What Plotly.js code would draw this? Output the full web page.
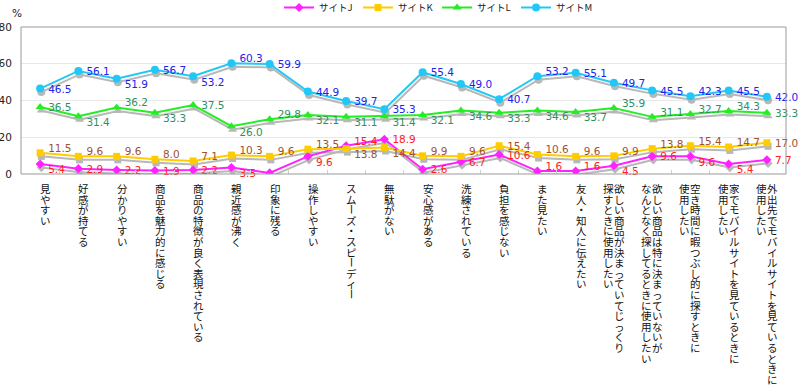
<!DOCTYPE html>
<html><head><meta charset="utf-8">
<script src="https://cdn.plot.ly/plotly-3.0.1.min.js"></script>
<style>html,body{margin:0;padding:0;background:#fff}</style>
</head><body><div id="chart" style="width:799px;height:386px"></div>
<script>
// ---- data ----
const categories = [
  '見やすい','好感が持てる','分かりやすい','商品を魅力的に感じる','商品の特徴が良く表現されている',
  '親近感が沸く','印象に残る','操作しやすい','スムーズ・スピーディー','無駄がない',
  '安心感がある','洗練されている','負担を感じない','また見たい','友人・知人に伝えたい',
  '欲しい商品が決まっていてじっくり<br>探すときに使用したい',
  '欲しい商品は特に決まっていないが<br>なんとなく探してるときに使用したい',
  '空き時間に暇つぶし的に探すときに<br>使用したい',
  '家でモバイルサイトを見ているときに<br>使用したい',
  '外出先でモバイルサイトを見ているときに<br>使用したい'
];
const seriesNames = ['サイトJ','サイトK','サイトL','サイトM'];
const siteJ = [5.4,2.9,2.2,1.9,2.2,3.5,0.6,9.6,15.4,18.9,2.6,6.7,10.6,1.6,1.6,4.5,9.6,9.6,5.4,7.7];
const siteK = [11.5,9.6,9.6,8.0,7.1,10.3,9.6,13.5,13.8,14.4,9.9,9.6,15.4,10.6,9.6,9.9,13.8,15.4,14.7,17.0];
const siteL = [36.5,31.4,36.2,33.3,37.5,26.0,29.8,32.1,31.1,31.4,32.1,34.6,33.3,34.6,33.7,35.9,31.1,32.7,34.3,33.3];
const siteM = [46.5,56.1,51.9,56.7,53.2,60.3,59.9,44.9,39.7,35.3,55.4,49.0,40.7,53.2,55.1,49.7,45.5,42.3,45.5,42.0];
const yTicks = [0,20,40,60,80];
const yTickText = ['0','20','40','60','80'];
const yUnit = '%';

// ---- styles ----
const lineColors = ['#ff22ff','#ffcc00','#22ee22','#22c8f5'];
const labelColors = ['#ff2020','#a0522d','#2e9060','#2222ee'];
const symbols = ['diamond','square','triangle-up','circle'];
const msizes = [7,7,8,8];
const P = {T:'top right', M:'middle right', B:'bottom right'};
const labelPos = [
  'BMMMMBMBTMMMMTTBMBBM',
  'TTTTTTTTBBTTMTTTTTTM',
  'MBTBMBTBBBBBBBBTTTTM',
  'MMBMBTMMMMMMMTMMMTMM'
].map(s => s.split('').map(c => P[c]));
const shadow = '#b8b8b8';
const font = 'DejaVu Sans, Noto Sans CJK JP, sans-serif';
const jpFont = 'Noto Sans CJK JP, sans-serif';

const series = [siteJ, siteK, siteL, siteM];
const traces = [];
// shadows (main axes, shifted range)
series.forEach((vals, s) => {
  traces.push({x: categories, y: vals, type: 'scatter', mode: 'lines+markers',
    xaxis: 'x', yaxis: 'y', showlegend: false, hoverinfo: 'skip',
    line: {color: shadow, width: 2},
    marker: {symbol: symbols[s], size: msizes[s], color: shadow}});
});
// coloured lines
series.forEach((vals, s) => {
  traces.push({x: categories, y: vals, type: 'scatter', mode: 'lines+markers',
    name: seriesNames[s], xaxis: 'x2', yaxis: 'y2',
    line: {color: lineColors[s], width: 2},
    marker: {symbol: symbols[s], size: msizes[s], color: lineColors[s]}});
});
// value labels
series.forEach((vals, s) => {
  traces.push({x: categories, y: vals, type: 'scatter', mode: 'text',
    xaxis: 'x3', yaxis: 'y3', showlegend: false, hoverinfo: 'skip', cliponaxis: false,
    texttemplate: '%{y:.1f}', textposition: labelPos[s],
    textfont: {family: font, size: 10.5, color: labelColors[s]}});
});

// vertical category labels: one annotation per column, one character per line
const annotations = [];
const glyph = 10.5, lineFont = 8.15, pitch = 1.3 * lineFont, topPad = 5.3, colGap = 11;
const bar = 'ー', blank = '　';
categories.forEach((cat, i) => {
  cat.split('<br>').forEach((line, k) => {
    const chars = Array.from(line);
    const xs = colGap / 2 - colGap * k;
    annotations.push({xref: 'x2', yref: 'paper', x: i, y: 0, showarrow: false,
      xanchor: 'center', yanchor: 'top', align: 'center',
      text: chars.map(c => '<span style="font-size:' + glyph + 'px">' + (c === bar ? blank : c) + '</span>').join('<br>'),
      xshift: xs, yshift: -topPad,
      font: {family: jpFont, size: lineFont, color: '#111'}});
    chars.forEach((c, j) => {
      if (c !== bar) return;
      annotations.push({xref: 'x2', yref: 'paper', x: i, y: 0, showarrow: false,
        xanchor: 'center', yanchor: 'middle', text: c, textangle: 90,
        xshift: xs, yshift: -(9.3 + 5.2 + j * pitch),
        font: {family: jpFont, size: glyph, color: '#111'}});
    });
  });
});
annotations.push({xref: 'paper', yref: 'paper', x: -0.005, y: 1.095, showarrow: false,
  xanchor: 'center', yanchor: 'middle', text: yUnit, font: {family: font, size: 10.5, color: '#222'}});

const n = categories.length;
const pxX = 765 / n, pxY = 147 / 80;
const layout = {
  width: 799, height: 386,
  margin: {l: 21, r: 13, t: 27, b: 212, autoexpand: false},
  paper_bgcolor: '#fff', plot_bgcolor: '#fff',
  font: {family: font, size: 10.5, color: '#222'},
  showlegend: true,
  legend: {orientation: 'h', x: 0.3373, xanchor: 'left', y: 1.1327, yanchor: 'middle',
    bgcolor: 'rgba(0,0,0,0)', entrywidth: 34, entrywidthmode: 'pixels',
    font: {family: jpFont, size: 9.5, color: '#222'}},
  xaxis: {type: 'category', categoryorder: 'array', categoryarray: categories,
    range: [-0.5 - 1.2 / pxX, n - 0.5 - 1.2 / pxX], visible: false, fixedrange: true},
  yaxis: {range: [3.5 / pxY, 80 + 3.5 / pxY], visible: false, fixedrange: true},
  xaxis2: {type: 'category', categoryorder: 'array', categoryarray: categories, overlaying: 'x',
    anchor: 'y2', range: [-0.5, n - 0.5], showticklabels: false, showgrid: false,
    ticks: 'inside', tickson: 'boundaries', ticklen: 4, tickcolor: '#d0d0d0', showline: false},
  yaxis2: {overlaying: 'y', anchor: 'x2', range: [0, 80], tickvals: yTicks, ticktext: yTickText,
    showgrid: true, gridcolor: '#e8e8e8', zeroline: false, showline: false,
    ticks: 'outside', ticklen: 6, tickcolor: 'rgba(0,0,0,0)',
    tickfont: {family: font, size: 10.5, color: '#222'}},
  xaxis3: {type: 'category', categoryorder: 'array', categoryarray: categories, overlaying: 'x',
    anchor: 'y3', range: [-0.5 - 8 / pxX, n - 0.5 - 8 / pxX], visible: false},
  yaxis3: {overlaying: 'y', anchor: 'x3', range: [1.5 / pxY, 80 + 1.5 / pxY], visible: false},
  shapes: [{type: 'rect', xref: 'paper', yref: 'paper', x0: 0, x1: 1, y0: 0, y1: 1,
    line: {color: '#999', width: 1}, layer: 'above'}],
  annotations: annotations
};
Plotly.newPlot('chart', traces, layout, {displayModeBar: false, staticPlot: true});
</script></body></html>
